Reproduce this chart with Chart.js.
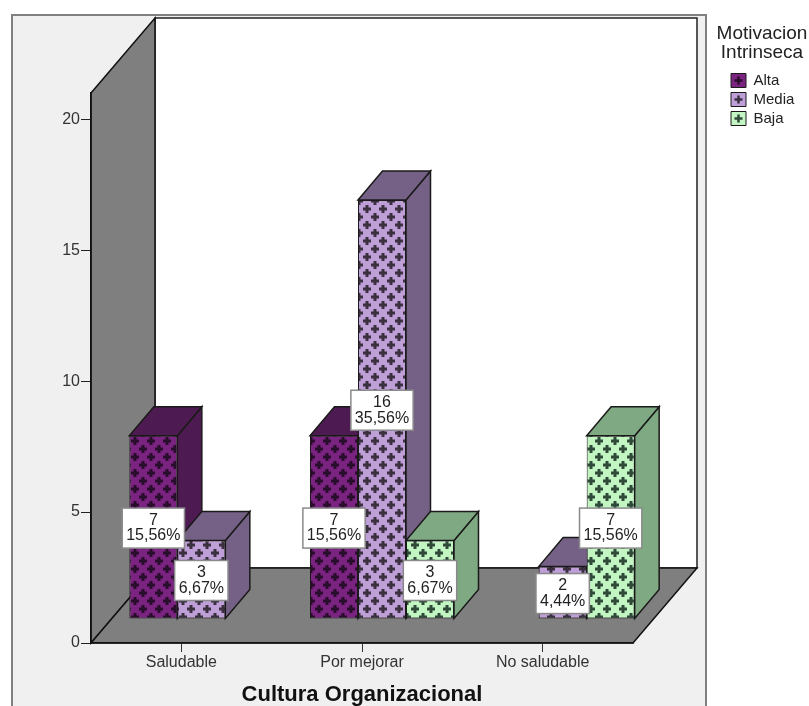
<!DOCTYPE html>
<html>
<head>
<meta charset="utf-8">
<title>Cultura Organizacional</title>
<script src="https://cdn.jsdelivr.net/npm/chart.js@4"></script>
<style>
    html, body { margin: 0; padding: 0; background: #fff; }
    #wrap { width: 809px; height: 706px; }
</style>
</head>
<body>
<div id="wrap"><canvas id="myChart" width="809" height="706"></canvas></div>
<script>
const categories = ["Saludable", "Por mejorar", "No saludable"];
const yTicks = [0, 5, 10, 15, 20];
const altaValues = [7, 7, null];
const mediaValues = [3, 16, 2];
const bajaValues = [null, 3, 7];
const altaPercents = ["15,56%", "15,56%", null];
const mediaPercents = ["6,67%", "35,56%", "4,44%"];
const bajaPercents = [null, "6,67%", "15,56%"];
const legendTitle = ["Motivacion", "Intrinseca"];

const FONT = "'Liberation Sans', Arial, sans-serif";

// Desplazamiento de las barras sobre el piso y profundidad de los ejes 3D
const barShift = { x: 20, y: -24 };
const barDepth = { x: 24.5, y: -29 };
const wallDepth = { x: 64, y: -75 };

// Trama de cruces para la cara frontal de cada barra
const plusPattern = (ctx, bg, fg) => {
    const tile = document.createElement("canvas");
    tile.width = 16;
    tile.height = 16;
    const t = tile.getContext("2d");
    t.fillStyle = bg;
    t.fillRect(0, 0, 16, 16);
    t.fillStyle = fg;
    [[4, 4], [12, 12]].forEach(([cx, cy]) => {
        t.fillRect(cx - 4, cy - 1.5, 8, 3);
        t.fillRect(cx - 1.5, cy - 4, 3, 8);
    });
    const pattern = ctx.createPattern(tile, "repeat");
    pattern.setTransform(new DOMMatrix().translate(-1, -3));
    return pattern;
};

// Cruz centrada en cada cuadro de la leyenda
const legendPattern = (ctx, bg, fg) => {
    const tile = document.createElement("canvas");
    tile.width = 19;
    tile.height = 19;
    const t = tile.getContext("2d");
    t.fillStyle = bg;
    t.fillRect(0, 0, 19, 19);
    t.fillStyle = fg;
    t.fillRect(5.5, 8.25, 8, 2.5);
    t.fillRect(8.25, 5.5, 2.5, 8);
    const pattern = ctx.createPattern(tile, "repeat");
    pattern.setTransform(new DOMMatrix().translate(729, -5));
    return pattern;
};

const polygon = (ctx, points, fill, stroke) => {
    ctx.beginPath();
    points.forEach(([x, y], i) => (i ? ctx.lineTo(x, y) : ctx.moveTo(x, y)));
    ctx.closePath();
    ctx.fillStyle = fill;
    ctx.fill();
    ctx.strokeStyle = stroke;
    ctx.lineWidth = 1.5;
    ctx.stroke();
};

// Panel gris, paredes, piso y titulo de la leyenda
const backdrop = {
    id: "backdrop",
    beforeDraw: (chart) => {
        const { ctx, chartArea: a } = chart;
        const dx = wallDepth.x;
        const dy = wallDepth.y;
        ctx.save();
        ctx.fillStyle = "#f0f0f0";
        ctx.strokeStyle = "#808080";
        ctx.lineWidth = 2;
        ctx.fillRect(12, 15, 694, 700);
        ctx.strokeRect(12, 15, 694, 700);
        polygon(ctx, [[a.left + dx, a.top + dy], [a.right + dx, a.top + dy], [a.right + dx, a.bottom + dy], [a.left + dx, a.bottom + dy]], "#ffffff", "#222222");
        polygon(ctx, [[a.left, a.top], [a.left + dx, a.top + dy], [a.left + dx, a.bottom + dy], [a.left, a.bottom]], "#7f7f7f", "#111111");
        polygon(ctx, [[a.left, a.bottom], [a.left + dx, a.bottom + dy], [a.right + dx, a.bottom + dy], [a.right, a.bottom]], "#7f7f7f", "#111111");
        ctx.font = "19px " + FONT;
        ctx.textAlign = "center";
        ctx.textBaseline = "middle";
        ctx.fillStyle = "#222222";
        legendTitle.forEach((line, i) => ctx.fillText(line, 762, 34 + i * 19));
        ctx.restore();
    },
    afterLayout: (chart) => {
        const lg = chart.legend;
        lg.left = 727;
        lg.right = 806;
        lg.top = 69;
        lg.bottom = 140;
    },
};

// Cara lateral y superior de cada barra; se pintan de izquierda a derecha
const drawFaces = (chart, d) => {
    const { ctx } = chart;
    const ds = chart.data.datasets[d];
    chart.getDatasetMeta(d).data.forEach((el, i) => {
        if (ds.data[i] === null) return;
        const l = el.x - el.width / 2;
        const r = el.x + el.width / 2;
        const t = el.y;
        const b = el.base;
        const dx = barDepth.x;
        const dy = barDepth.y;
        polygon(ctx, [[r, t], [r + dx, t + dy], [r + dx, b + dy], [r, b]], ds.faceColor, "#1a1a1a");
        polygon(ctx, [[l, t], [l + dx, t + dy], [r + dx, t + dy], [r, t]], ds.faceColor, "#1a1a1a");
    });
};

const drawValueBoxes = (chart) => {
    const { ctx } = chart;
    ctx.save();
    ctx.font = "16px " + FONT;
    ctx.textAlign = "center";
    ctx.textBaseline = "middle";
    chart.data.datasets.forEach((ds, d) => {
        chart.getDatasetMeta(d).data.forEach((el, i) => {
            if (ds.data[i] === null) return;
            const cx = el.x + barShift.x;
            const cy = (el.y + el.base) / 2 + barShift.y + 1;
            const w = ctx.measureText(ds.percents[i]).width + 8;
            ctx.fillStyle = "#ffffff";
            ctx.strokeStyle = "#8a8a8a";
            ctx.lineWidth = 1.5;
            ctx.fillRect(cx - w / 2, cy - 20, w, 40);
            ctx.strokeRect(cx - w / 2, cy - 20, w, 40);
            ctx.fillStyle = "#222222";
            ctx.fillText(String(ds.data[i]), cx, cy - 7.5);
            ctx.fillText(ds.percents[i], cx, cy + 8);
        });
    });
    ctx.restore();
};

const bars3d = {
    id: "bars3d",
    beforeDatasetsDraw: (chart) => {
        const { ctx } = chart;
        ctx.save();
        ctx.translate(barShift.x, barShift.y);
        chart.data.datasets.forEach((ds, d) => {
            drawFaces(chart, d);
            chart.getDatasetMeta(d).controller.draw();
        });
        ctx.restore();
        drawValueBoxes(chart);
        return false;
    },
};

const canvas = document.querySelector("#myChart");
const ctx2d = canvas.getContext("2d");

const makeDataset = (label, data, percents, bg, fg, faceColor) => ({
    label,
    data,
    percents,
    faceColor,
    backgroundColor: plusPattern(ctx2d, bg, fg),
    legendFill: legendPattern(ctx2d, bg, fg),
    borderColor: "#1a1a1a",
    borderWidth: 1,
    borderSkipped: false,
});

new Chart(canvas, {
    type: "bar",
    data: {
        labels: categories,
        datasets: [
            makeDataset("Alta", altaValues, altaPercents, "#7b2380", "#2a0c2d", "#4e1a52"),
            makeDataset("Media", mediaValues, mediaPercents, "#bf9fd8", "#3a3040", "#766186"),
            makeDataset("Baja", bajaValues, bajaPercents, "#c3f5c3", "#2f4a38", "#7fa983"),
        ],
    },
    options: {
        responsive: false,
        animation: false,
        categoryPercentage: 0.797,
        barPercentage: 1,
        layout: { padding: { left: 51, top: 93, right: 116, bottom: 0 } },
        scales: {
            x: {
                grid: { drawOnChartArea: false, offset: false, tickLength: 9, tickColor: "#333333" },
                border: { color: "#111111", width: 1.5 },
                ticks: { color: "#333333", font: { family: FONT, size: 16 }, padding: 1, maxRotation: 0, autoSkip: false },
                title: {
                    display: true,
                    text: "Cultura Organizacional",
                    color: "#111111",
                    font: { family: FONT, size: 22, weight: "bold", lineHeight: 1 },
                    padding: 0,
                },
                afterFit: (scale) => { scale.height = 63; },
            },
            y: {
                min: 0,
                max: 21,
                grid: { drawOnChartArea: false, tickLength: 10, tickColor: "#222222" },
                border: { color: "#111111", width: 1.5 },
                ticks: { color: "#333333", font: { family: FONT, size: 16 }, padding: 1, stepSize: 5 },
                afterBuildTicks: (scale) => { scale.ticks = yTicks.map((value) => ({ value })); },
                afterFit: (scale) => { scale.width = 40; },
            },
        },
        plugins: {
            tooltip: { enabled: false },
            legend: {
                position: "right",
                align: "start",
                maxWidth: 60,
                labels: {
                    boxWidth: 15,
                    boxHeight: 14,
                    padding: 4,
                    color: "#222222",
                    font: { family: FONT, size: 15 },
                    sort: (a, b) => a.datasetIndex - b.datasetIndex,
                    generateLabels: (chart) => {
                        const items = Chart.defaults.plugins.legend.labels.generateLabels(chart);
                        items.forEach((item) => {
                            item.fillStyle = chart.data.datasets[item.datasetIndex].legendFill;
                        });
                        return items;
                    },
                },
            },
        },
    },
    plugins: [backdrop, bars3d],
});
</script>
</body>
</html>
